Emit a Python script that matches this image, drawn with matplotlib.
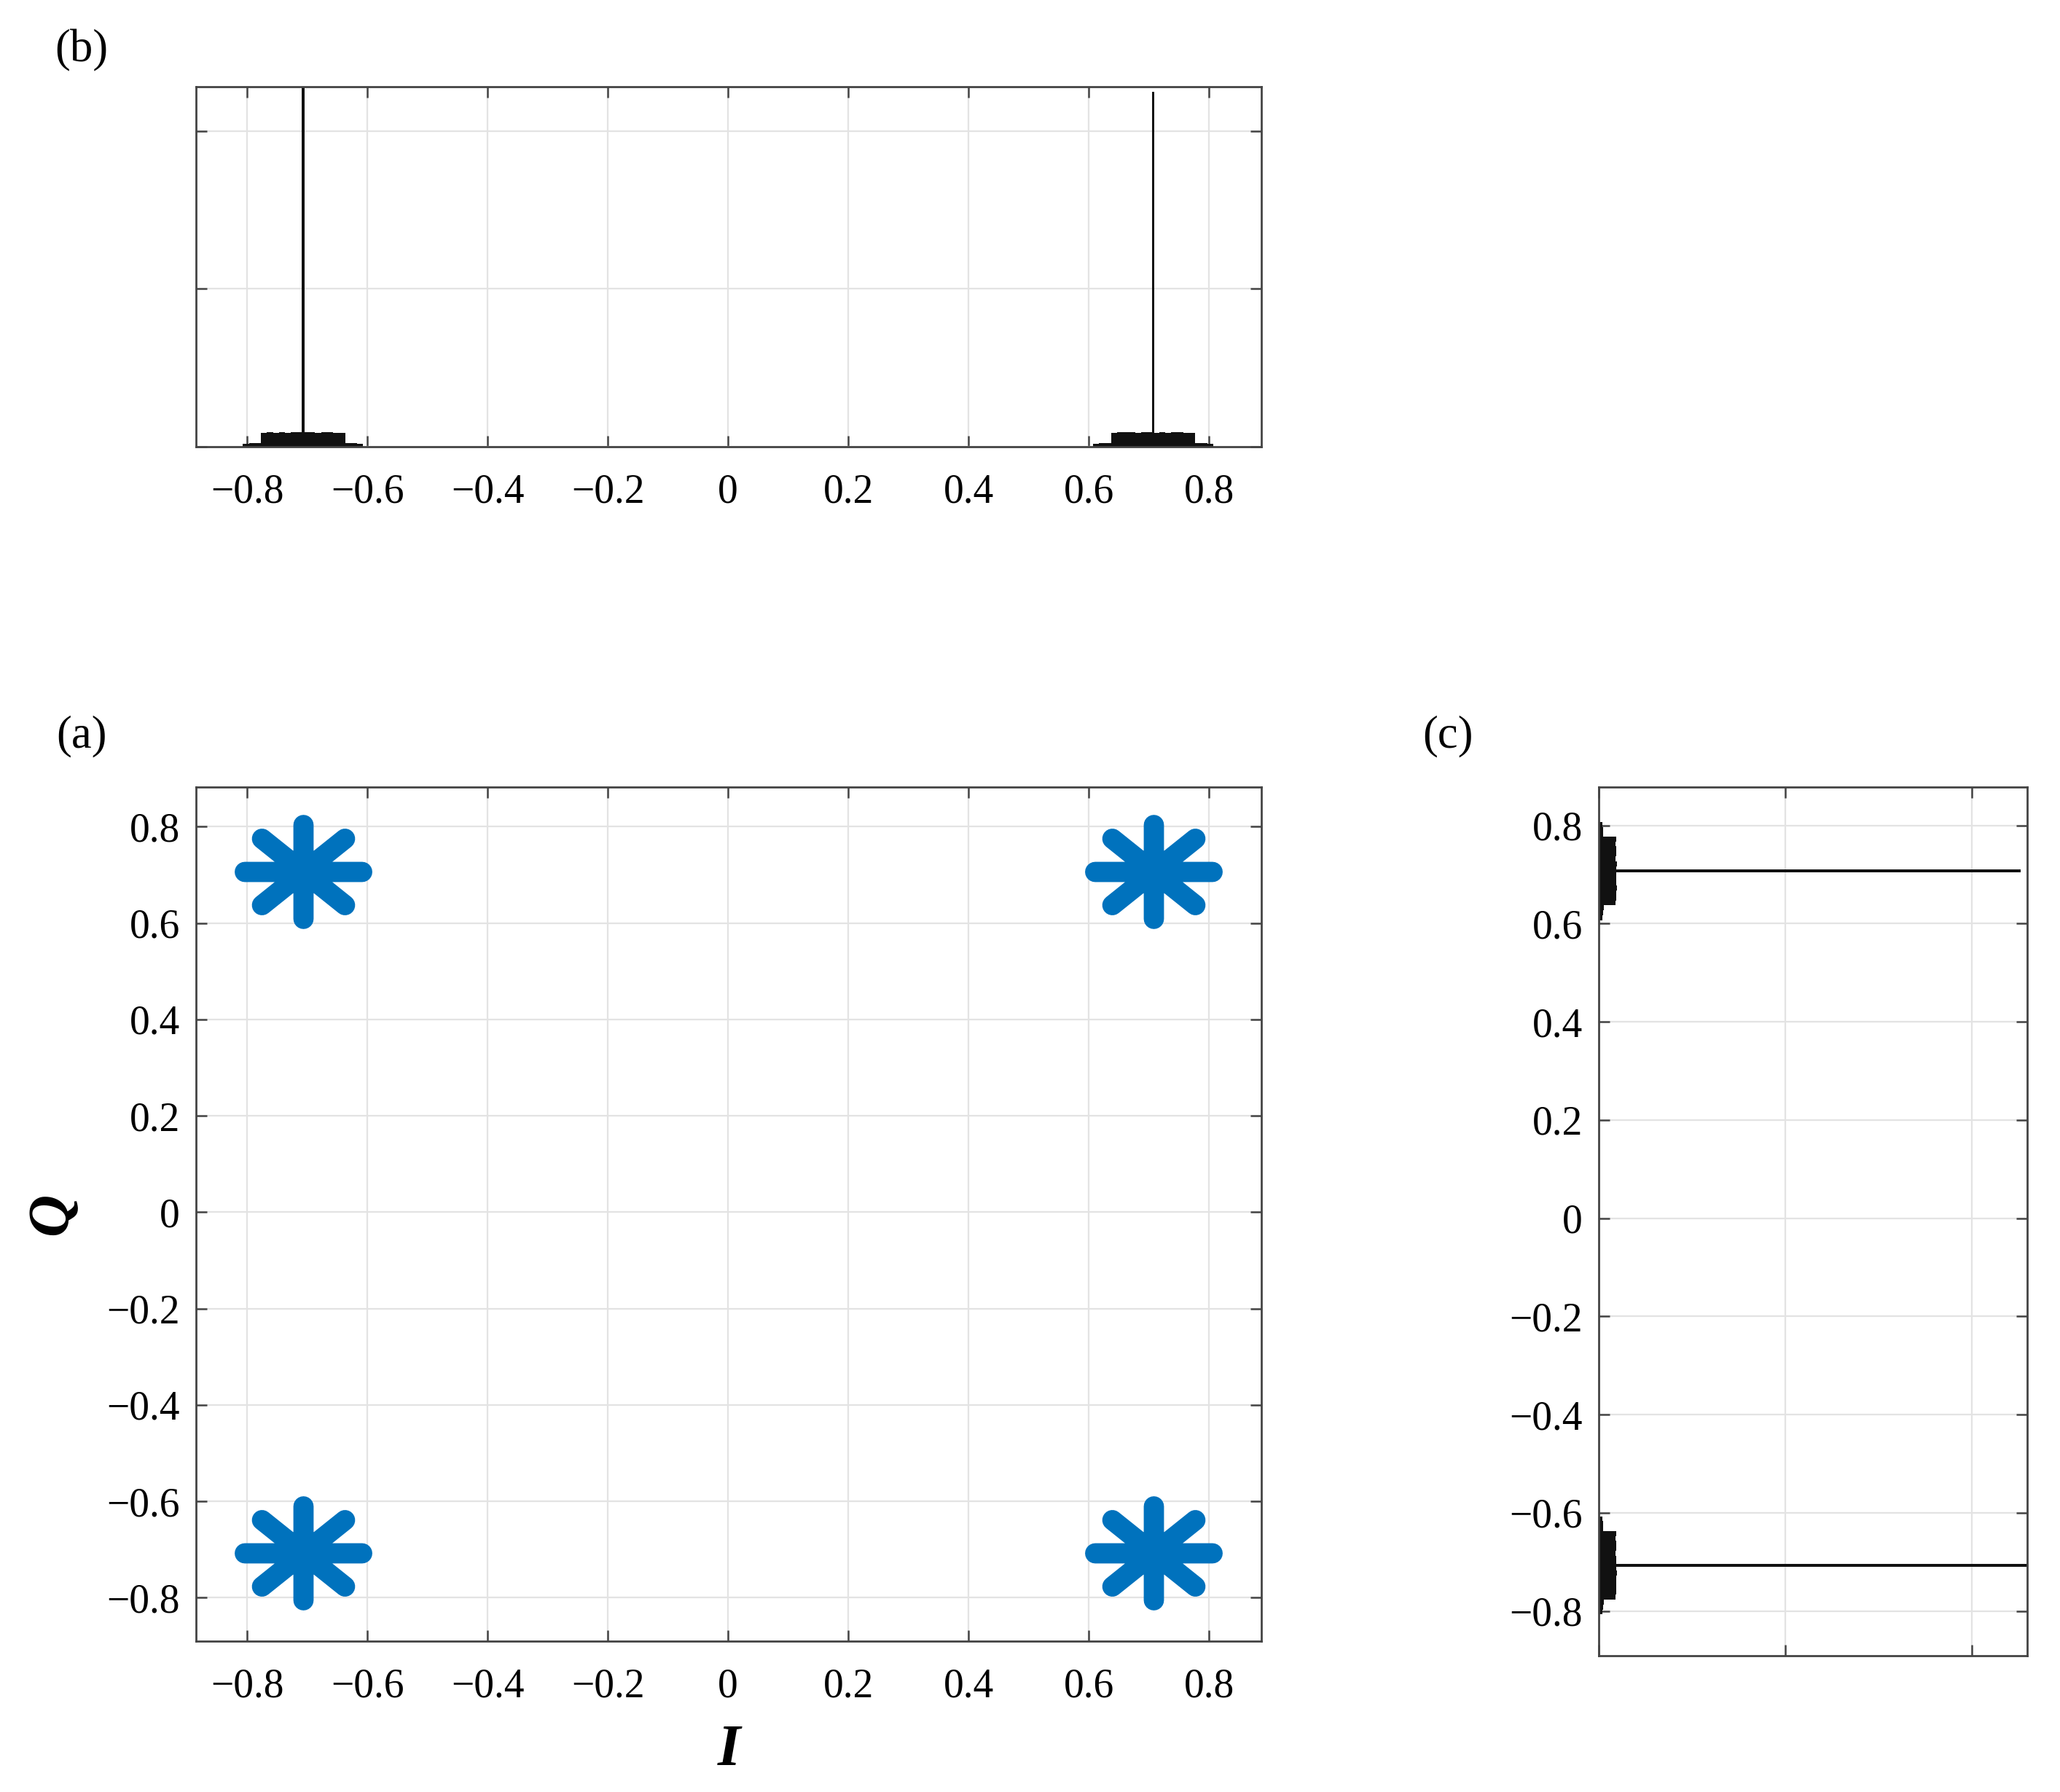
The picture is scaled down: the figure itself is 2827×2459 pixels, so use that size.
import matplotlib
matplotlib.use("Agg")
import matplotlib.pyplot as plt
from matplotlib.path import Path
from matplotlib.markers import MarkerStyle

plt.rcParams['font.family'] = ['Liberation Serif', 'DejaVu Serif']

# ---------------- data ----------------
# QPSK constellation points (a)
sym_I = [-0.7071, 0.7071, -0.7071, 0.7071]
sym_Q = [0.7071, 0.7071, -0.7071, -0.7071]

# histogram of I component (b): bin centres and counts
hist_I_centers = [-0.802, -0.792, -0.782, -0.772, -0.762, -0.752, -0.742, -0.732, -0.722, -0.712,
                  -0.702, -0.692, -0.682, -0.672, -0.662, -0.652, -0.642, -0.632, -0.622, -0.612,
                  0.612, 0.622, 0.632, 0.642, 0.652, 0.662, 0.672, 0.682, 0.692, 0.702,
                  0.712, 0.722, 0.732, 0.742, 0.752, 0.762, 0.772, 0.782, 0.792, 0.802]
hist_I_counts = [95, 110, 120, 440, 455, 450, 462, 448, 470, 458,
                 452, 466, 445, 460, 452, 438, 447, 118, 105, 90,
                 92, 108, 122, 445, 460, 452, 470, 448, 465, 455,
                 450, 468, 447, 462, 455, 440, 449, 115, 104, 88]
spike_I_pos = [-0.7071, 0.7071]
spike_I_counts = [11375, 11250]

# histogram of Q component (c)
hist_Q_centers = hist_I_centers
hist_Q_counts = [100, 118, 130, 455, 470, 462, 475, 460, 482, 470,
                 465, 478, 458, 472, 466, 452, 460, 125, 112, 96,
                 98, 115, 128, 458, 472, 465, 480, 462, 476, 468,
                 462, 480, 458, 474, 466, 452, 461, 124, 110, 94]
spike_Q_pos = [0.7071, -0.7071]
spike_Q_counts = [11300, 11650]

iq_ticks = [-0.8, -0.6, -0.4, -0.2, 0, 0.2, 0.4, 0.6, 0.8]
iq_ticklabels = ['\u22120.8', '\u22120.6', '\u22120.4', '\u22120.2', '0', '0.2', '0.4', '0.6', '0.8']
count_ticks = [0, 5000, 10000]

# ---------------- style ----------------
W, H = 2827, 2459
fig = plt.figure(figsize=(W / 100, H / 100), dpi=100)

spine_col = '#444444'
grid_col = '#e3e3e3'
tick_fs = 40
blue = '#0072BD'
hist_col = '#111111'


def style_axes(ax):
    for s in ax.spines.values():
        s.set_color(spine_col)
        s.set_linewidth(2.0)
    ax.tick_params(direction='in', length=11, width=1.8, color=spine_col,
                   top=True, right=True, labelsize=tick_fs)
    ax.tick_params(axis='x', pad=26)
    ax.tick_params(axis='y', pad=16)
    ax.grid(True, color=grid_col, linewidth=1.6)
    ax.set_axisbelow(True)


# (b) histogram of I
ax_b = fig.add_axes([269 / W, 1 - 613 / H, (1731 - 269) / W, (613 - 119) / H])
ax_b.bar(hist_I_centers, hist_I_counts, width=0.0101, color=hist_col, linewidth=0)
ax_b.bar(spike_I_pos, spike_I_counts, width=0.0045, color=hist_col, linewidth=0)
ax_b.set_xlim(-0.885, 0.887)
ax_b.set_ylim(0, 11400)
ax_b.set_xticks(iq_ticks)
ax_b.set_xticklabels(iq_ticklabels)
ax_b.set_yticks(count_ticks)
ax_b.set_yticklabels([])
style_axes(ax_b)

# (a) constellation
ax_a = fig.add_axes([269 / W, 1 - 2252 / H, (1731 - 269) / W, (2252 - 1080) / H])
s = 1.25
d = 0.7071
verts = [(-s, 0), (s, 0), (0, -1), (0, 1), (-s * d, -d), (s * d, d), (-s * d, d), (s * d, -d)]
codes = [Path.MOVETO, Path.LINETO] * 4
star = MarkerStyle(Path(verts, codes), capstyle='round')
ax_a.plot(sym_I, sym_Q, linestyle='none', marker=star, markersize=116,
          markeredgewidth=20, markeredgecolor=blue, markerfacecolor=blue)
ax_a.set_xlim(-0.885, 0.887)
ax_a.set_ylim(-0.89, 0.882)
ax_a.set_xticks(iq_ticks)
ax_a.set_xticklabels(iq_ticklabels)
ax_a.set_yticks(iq_ticks)
ax_a.set_yticklabels(iq_ticklabels)
style_axes(ax_a)
ax_a.set_xlabel('I', fontsize=58, fontstyle='italic', fontweight='bold')
ax_a.set_ylabel('Q', fontsize=58, fontstyle='italic', fontweight='bold')
ax_a.xaxis.set_label_coords(0.5, -0.097)
ax_a.yaxis.set_label_coords(-0.109, 0.5)

# (c) histogram of Q
ax_c = fig.add_axes([2194 / W, 1 - 2272 / H, (2782 - 2194) / W, (2272 - 1080) / H])
ax_c.barh(hist_Q_centers, hist_Q_counts, height=0.0101, color=hist_col, linewidth=0)
ax_c.barh(spike_Q_pos, spike_Q_counts, height=0.0055, color=hist_col, linewidth=0)
ax_c.set_ylim(-0.891, 0.878)
ax_c.set_xlim(0, 11480)
ax_c.set_yticks(iq_ticks)
ax_c.set_yticklabels(iq_ticklabels)
ax_c.set_xticks(count_ticks)
ax_c.set_xticklabels([])
style_axes(ax_c)

# panel labels
fig.text(112 / W, 1 - 69 / H, '(b)', fontsize=45, ha='center', va='center')
fig.text(112 / W, 1 - 1010 / H, '(a)', fontsize=45, ha='center', va='center')
fig.text(1987 / W, 1 - 1010 / H, '(c)', fontsize=45, ha='center', va='center')

fig.savefig('out.png', dpi=100)
